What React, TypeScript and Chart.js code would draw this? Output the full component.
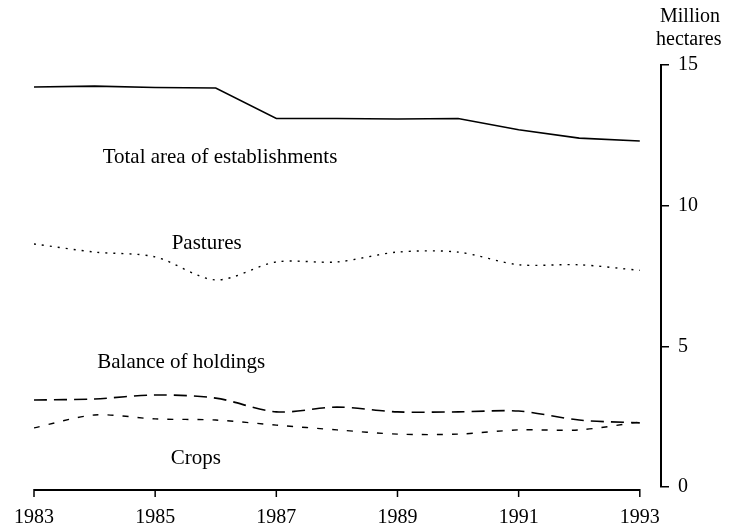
import React, { useEffect, useRef } from "react";
import { Chart, registerables } from "chart.js";

Chart.register(...registerables);

const years = [1983, 1984, 1985, 1986, 1987, 1988, 1989, 1990, 1991, 1992, 1993];
const tickYears = [1983, 1985, 1987, 1989, 1991, 1993];
const totalArea = [14.22, 14.25, 14.2, 14.18, 13.1, 13.1, 13.08, 13.1, 12.7, 12.4, 12.3];
const pastures = [8.64, 8.35, 8.18, 7.36, 8.0, 8.0, 8.35, 8.35, 7.9, 7.9, 7.7];
const balance = [3.09, 3.13, 3.27, 3.16, 2.67, 2.84, 2.67, 2.67, 2.7, 2.38, 2.28];
const crops = [2.1, 2.56, 2.42, 2.38, 2.2, 2.03, 1.88, 1.88, 2.03, 2.03, 2.31];
const yTicks = [0, 5, 10, 15];
const unitLines = ["Million", "hectares"];

const seriesLabels = [
  { text: "Total area of establishments", x: 1986.07, y: 11.73 },
  { text: "Pastures", x: 1985.85, y: 8.67 },
  { text: "Balance of holdings", x: 1985.43, y: 4.44 },
  { text: "Crops", x: 1985.67, y: 1.03 },
];

const FONT = "'Liberation Serif', 'Times New Roman', serif";

export default function App() {
  const ref = useRef<HTMLCanvasElement | null>(null);

  useEffect(() => {
    document.body.style.margin = "0";
    const canvas = ref.current;
    if (!canvas) return;

    const toPts = (arr: number[]) => years.map((yr, i) => ({ x: yr, y: arr[i] }));

    const annot = {
      id: "annot",
      afterDraw(chart: any) {
        const ctx = chart.ctx;
        const xs = chart.scales.x;
        const ys = chart.scales.y;
        ctx.save();
        ctx.fillStyle = "#000";
        ctx.font = `21px ${FONT}`;
        ctx.textAlign = "center";
        ctx.textBaseline = "middle";
        for (const l of seriesLabels) {
          ctx.fillText(l.text, xs.getPixelForValue(l.x), ys.getPixelForValue(l.y));
        }
        // unit title above right axis
        ctx.font = `20px ${FONT}`;
        ctx.textAlign = "left";
        ctx.fillText(unitLines[0], ys.left - 1, chart.chartArea.top - 48);
        ctx.fillText(unitLines[1], ys.left - 5, chart.chartArea.top - 25);
        // x axis line from first to last year
        const yb = chart.chartArea.bottom + 3;
        const x0 = xs.getPixelForValue(tickYears[0]);
        const x1 = xs.getPixelForValue(tickYears[tickYears.length - 1]);
        ctx.strokeStyle = "#000";
        ctx.lineWidth = 2;
        ctx.beginPath();
        ctx.moveTo(x0, yb);
        ctx.lineTo(x1, yb);
        ctx.stroke();
        ctx.lineWidth = 1.5;
        for (const t of tickYears) {
          const px = xs.getPixelForValue(t);
          ctx.beginPath();
          ctx.moveTo(px, yb - 1);
          ctx.lineTo(px, yb + 7);
          ctx.stroke();
        }
        ctx.restore();
      },
    };

    const chart = new Chart(canvas, {
      type: "line",
      data: {
        datasets: [
          {
            label: "Total area of establishments",
            data: toPts(totalArea),
            borderColor: "#000",
            borderWidth: 1.6,
            pointRadius: 0,
            tension: 0,
          },
          {
            label: "Pastures",
            data: toPts(pastures),
            borderColor: "#000",
            borderWidth: 1.4,
            borderDash: [2, 6],
            pointRadius: 0,
            tension: 0.3,
          },
          {
            label: "Balance of holdings",
            data: toPts(balance),
            borderColor: "#000",
            borderWidth: 1.6,
            borderDash: [13, 7],
            pointRadius: 0,
            tension: 0.3,
          },
          {
            label: "Crops",
            data: toPts(crops),
            borderColor: "#000",
            borderWidth: 1.4,
            borderDash: [6, 9],
            pointRadius: 0,
            tension: 0.3,
          },
        ],
      },
      options: {
        animation: false,
        responsive: false,
        maintainAspectRatio: false,
        layout: { padding: { top: 65, left: 34, right: 0, bottom: 0 } },
        plugins: { legend: { display: false }, tooltip: { enabled: false } },
        scales: {
          x: {
            type: "linear",
            min: 1983,
            max: 1993.35,
            grid: { display: false },
            border: { display: false },
            afterBuildTicks: (s: any) => {
              s.ticks = tickYears.map((v) => ({ value: v }));
            },
            afterFit: (s: any) => {
              s.height = 41;
            },
            ticks: {
              color: "#000",
              font: { family: FONT, size: 20 },
              padding: 11,
              maxRotation: 0,
              autoSkip: false,
              callback: (v: any) => String(v),
            },
          },
          y: {
            position: "right",
            min: 0,
            max: 15,
            afterBuildTicks: (s: any) => {
              s.ticks = yTicks.map((v) => ({ value: v }));
            },
            afterFit: (s: any) => {
              s.width = 75;
            },
            grid: {
              drawOnChartArea: false,
              drawTicks: true,
              tickLength: 8,
              color: "#000",
              lineWidth: 1.5,
            },
            border: { display: true, color: "#000", width: 2 },
            ticks: {
              color: "#000",
              font: { family: FONT, size: 20 },
              padding: 9,
              callback: (v: any) => String(v),
            },
          },
        },
      },
      plugins: [annot],
    });

    return () => chart.destroy();
  }, []);

  return (
    <div style={{ width: 736, height: 528, background: "#fff" }}>
      <canvas ref={ref} width={736} height={528} style={{ display: "block" }} />
    </div>
  );
}
